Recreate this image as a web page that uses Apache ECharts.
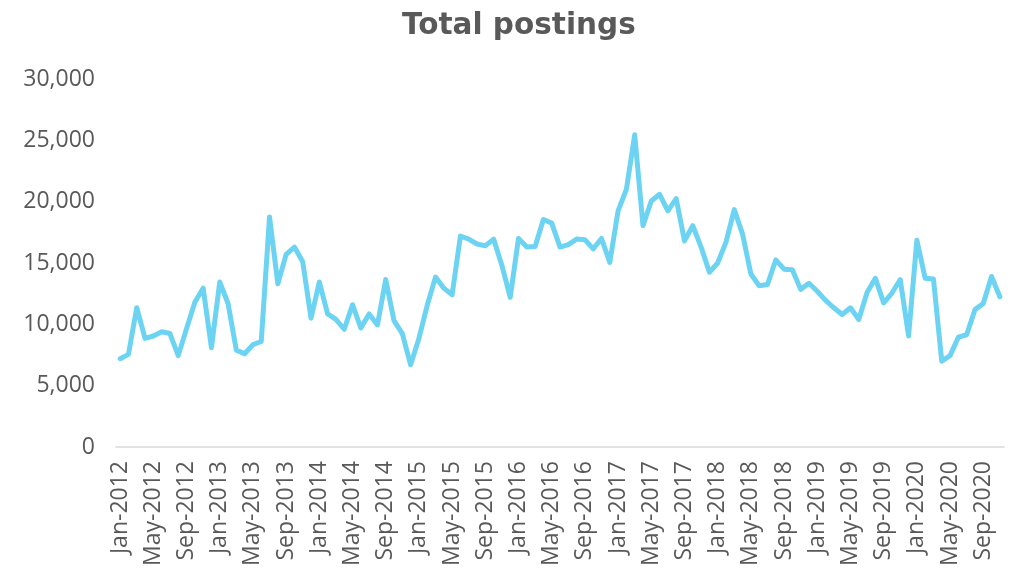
<!doctype html>
<html>
<head>
	<meta charset="utf-8">
	<title>Total postings</title>
	<script src="https://cdn.jsdelivr.net/npm/echarts@6/dist/echarts.min.js"></script>
	<style>
		html, body { margin: 0; padding: 0; background: #fff; }
		#container { width: 1012px; height: 569px; }
	</style>
</head>
<body>
	<div id="container"></div>
</body>
</html>
<script type="text/javascript">
	var monthNames = ['Jan', 'Feb', 'Mar', 'Apr', 'May', 'Jun', 'Jul', 'Aug', 'Sep', 'Oct', 'Nov', 'Dec'];
	var years = [2012, 2013, 2014, 2015, 2016, 2017, 2018, 2019, 2020];

	// monthly totals, Jan-2012 .. Nov-2020
	var postings = [
		7200, 7550, 11350, 8850, 9050, 9400, 9250, 7450, 9650, 11800, 12950, 8100,
		13450, 11700, 7900, 7600, 8350, 8600, 18750, 13300, 15700, 16300, 15100, 10500,
		13450, 10850, 10400, 9600, 11600, 9700, 10850, 9950, 13650, 10300, 9250, 6700,
		8850, 11550, 13850, 12950, 12400, 17200, 16950, 16550, 16400, 16950, 14800, 12200,
		17000, 16300, 16350, 18550, 18250, 16300, 16500, 16950, 16900, 16150, 17000, 15050,
		19250, 21000, 25450, 18050, 20050, 20600, 19250, 20250, 16800, 18050, 16300, 14250,
		15000, 16700, 19350, 17350, 14100, 13150, 13250, 15250, 14500, 14450, 12850, 13350,
		12700, 11950, 11350, 10800, 11350, 10400, 12600, 13750, 11750, 12550, 13650, 9050,
		16850, 13750, 13700, 7000, 7450, 8950, 9150, 11200, 11700, 13900, 12250
	];

	var months = [];
	years.forEach(function(y) {
		monthNames.forEach(function(m) {
			if (months.length < postings.length) months.push(m + '-' + y);
		});
	});

	var option = {
		title: {
			text: 'Total postings',
			left: 402,
			top: 11,
			padding: 0,
			textStyle: {
				fontFamily: 'DejaVu Sans',
				fontWeight: 'bold',
				fontSize: 29.5,
				color: '#595959'
			}
		},
		grid: {
			left: 116,
			right: 8,
			top: 79,
			bottom: 120
		},
		xAxis: {
			type: 'category',
			data: months,
			boundaryGap: true,
			axisLine: { lineStyle: { color: '#d9d9d9', width: 1.5 } },
			axisTick: { show: false },
			axisLabel: {
				interval: 3,
				rotate: 90,
				margin: 14,
				fontFamily: 'Open Sans',
				fontSize: 23,
				color: '#595959'
			}
		},
		yAxis: {
			type: 'value',
			min: 0,
			max: 30000,
			interval: 5000,
			splitLine: { show: false },
			axisLine: { show: false },
			axisTick: { show: false },
			axisLabel: {
				margin: 21,
				fontFamily: 'Open Sans',
				fontSize: 23,
				color: '#595959',
				formatter: function(v) {
					return v.toLocaleString('en-US');
				}
			}
		},
		series: [{
			name: 'Total postings',
			type: 'line',
			data: postings,
			symbol: 'none',
			lineStyle: { color: '#6cd4f2', width: 5, join: 'round', cap: 'round' },
			animation: false
		}]
	};

	var myChart = echarts.init(document.getElementById('container'));
	myChart.setOption(option);
</script>
